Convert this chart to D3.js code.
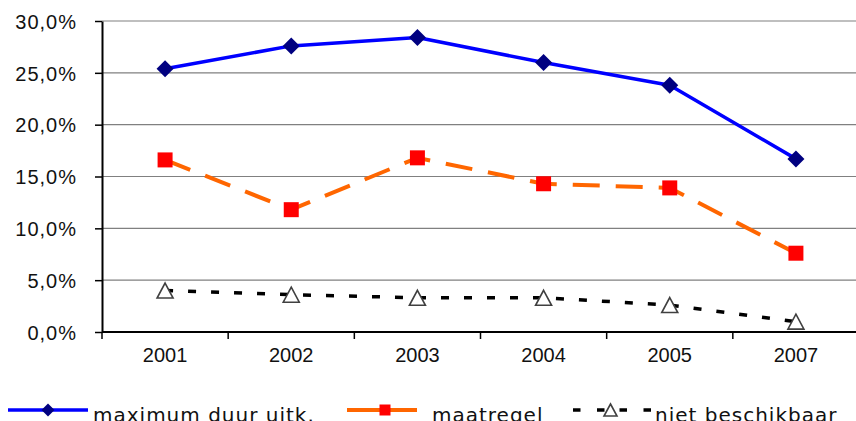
<!DOCTYPE html>
<html>
<head>
<meta charset="utf-8">
<script src="https://cdn.jsdelivr.net/npm/d3@7"></script>
<style>
  html, body { margin: 0; padding: 0; background: #fff; }
  svg { display: block; font-family: "DejaVu Sans", Verdana, sans-serif; }
</style>
</head>
<body>
<svg id="chart" width="856" height="421"></svg>
<script>
// Jaren en percentages per reeks
const years = ["2001", "2002", "2003", "2004", "2005", "2007"];
const maximumDuur = [25.4, 27.6, 28.4, 26.0, 23.8, 16.7];
const maatregel = [16.6, 11.8, 16.8, 14.3, 13.9, 7.6];
const nietBeschikbaar = [4.0, 3.6, 3.3, 3.3, 2.6, 1.0];
const yTicks = [0, 5, 10, 15, 20, 25, 30];
const seriesNames = ["maximum duur uitk.", "maatregel", "niet beschikbaar"];

const svg = d3.select("#chart");
const plotLeft = 102, plotRight = 859, plotTop = 21, plotBottom = 332;

const x = d3.scaleBand().domain(years).range([plotLeft, plotRight]).padding(0);
const y = d3.scaleLinear().domain([0, 30]).range([plotBottom, plotTop]);

const nl = d3.formatLocale({ decimal: ",", thousands: ".", grouping: [3], currency: ["€", ""] });
const pct = v => nl.format(".1%")(v / 100);

// Horizontale rasterlijnen
svg.append("g")
  .selectAll("line")
  .data(yTicks.filter(t => t > 0))
  .join("line")
  .attr("x1", plotLeft).attr("x2", 856)
  .attr("y1", d => y(d)).attr("y2", d => y(d))
  .attr("stroke", "#808080").attr("stroke-width", 1.2);

// Y-as
const yAxis = svg.append("g")
  .attr("transform", `translate(${plotLeft},0)`)
  .call(d3.axisLeft(y).tickValues(yTicks).tickSize(7).tickSizeOuter(0).tickFormat(pct).tickPadding(18));
yAxis.select(".domain").attr("stroke", "#000").attr("stroke-width", 2);
yAxis.selectAll(".tick line").attr("stroke", "#000").attr("stroke-width", 1.5);
yAxis.selectAll(".tick text")
  .attr("font-size", 20).attr("fill", "#111")
  .attr("letter-spacing", 1).attr("dy", "0.36em");

// X-as met streepjes tussen de categorieën
const xAxis = svg.append("g")
  .attr("transform", `translate(0,${plotBottom})`)
  .call(d3.axisBottom(x).tickSize(0).tickSizeOuter(0).tickPadding(16));
xAxis.select(".domain").attr("stroke", "#000").attr("stroke-width", 2)
  .attr("d", `M${plotLeft},0H856`);
xAxis.selectAll(".tick text").attr("font-size", 20).attr("fill", "#111").attr("dy", "0.71em");
xAxis.selectAll(".boundary")
  .data(years)
  .join("line")
  .attr("class", "boundary")
  .attr("x1", d => x(d)).attr("x2", d => x(d))
  .attr("y1", 0).attr("y2", 7)
  .attr("stroke", "#000").attr("stroke-width", 1.5);

const cx = d => x(d) + x.bandwidth() / 2;

const diamond = r => `M0,${-r}L${r},0L0,${r}L${-r},0Z`;
const square = s => `M${-s/2},${-s/2}h${s}v${s}h${-s}Z`;
const triangle = (w, h) => `M0,${-h/2}L${w/2},${h/2}L${-w/2},${h/2}Z`;

const series = [
  { name: seriesNames[0], values: maximumDuur, stroke: "#0000FF", dash: null, width: 3.5,
    marker: diamond(8.5), fill: "#000080", mStroke: "none", legendMarker: diamond(6.5) },
  { name: seriesNames[1], values: maatregel, stroke: "#FF6600", dash: "27 16", width: 4,
    marker: square(15), fill: "#FF0000", mStroke: "none", legendMarker: square(11) },
  { name: seriesNames[2], values: nietBeschikbaar, stroke: "#000", dash: "8 15", width: 3.5,
    marker: triangle(16, 15), fill: "#fff", mStroke: "#404040", legendMarker: triangle(13, 12) }
];

const line = d3.line().x(d => cx(d.year)).y(d => y(d.value));

series.forEach(s => {
  const pts = years.map((yr, i) => ({ year: yr, value: s.values[i] }));
  svg.append("path")
    .datum(pts)
    .attr("d", line)
    .attr("fill", "none")
    .attr("stroke", s.stroke)
    .attr("stroke-width", s.width)
    .attr("stroke-dasharray", s.dash)
    .attr("stroke-linejoin", "round");
});

series.forEach(s => {
  const pts = years.map((yr, i) => ({ year: yr, value: s.values[i] }));
  svg.append("g")
    .selectAll("path")
    .data(pts)
    .join("path")
    .attr("transform", d => `translate(${cx(d.year)},${y(d.value)})`)
    .attr("d", s.marker)
    .attr("fill", s.fill)
    .attr("stroke", s.mStroke)
    .attr("stroke-width", 1.6);
});

// Legenda
const legendY = 410;
const legend = [
  { x1: 8, x2: 88, mx: 48, tx: 93 },
  { x1: 347, x2: 417, mx: 385, tx: 432 },
  { x1: 573, x2: 651, mx: 610.5, tx: 655 }
];
series.forEach((s, i) => {
  const L = legend[i];
  const g = svg.append("g");
  if (i === 2) {
    g.append("line").attr("x1", L.x1).attr("x2", L.mx).attr("y1", legendY).attr("y2", legendY)
      .attr("stroke", s.stroke).attr("stroke-width", s.width).attr("stroke-dasharray", "7.5 16.5");
    g.append("line").attr("x1", L.x2).attr("x2", L.mx).attr("y1", legendY).attr("y2", legendY)
      .attr("stroke", s.stroke).attr("stroke-width", s.width).attr("stroke-dasharray", "7.5 16.5");
  } else {
    g.append("line").attr("x1", L.x1).attr("x2", L.x2).attr("y1", legendY).attr("y2", legendY)
      .attr("stroke", s.stroke).attr("stroke-width", s.width);
  }
  g.append("path")
    .attr("transform", `translate(${L.mx},${legendY})`)
    .attr("d", s.legendMarker)
    .attr("fill", s.fill).attr("stroke", s.mStroke).attr("stroke-width", 1.6);
  g.append("text")
    .attr("x", L.tx).attr("y", 422)
    .attr("font-size", 20).attr("letter-spacing", 1).attr("fill", "#111")
    .text(s.name);
});
</script>
</body>
</html>
